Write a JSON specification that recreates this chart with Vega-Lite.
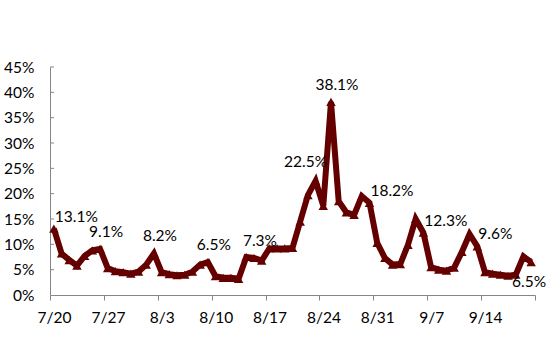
{
  "$schema": "https://vega.github.io/schema/vega-lite/v6.json",
  "autosize": {"type": "none"},
  "padding": {"left": 50, "top": 67, "right": 15, "bottom": 63},
  "width": 485,
  "height": 228,
  "background": "white",
  "config": {"view": {"stroke": null}, "font": "Lato"},
  "data": {"values": [
    {"date": "2020-07-20", "rate": 0.131},
    {"date": "2020-07-21", "rate": 0.082},
    {"date": "2020-07-22", "rate": 0.069},
    {"date": "2020-07-23", "rate": 0.058},
    {"date": "2020-07-24", "rate": 0.077},
    {"date": "2020-07-25", "rate": 0.088},
    {"date": "2020-07-26", "rate": 0.091},
    {"date": "2020-07-27", "rate": 0.053},
    {"date": "2020-07-28", "rate": 0.047},
    {"date": "2020-07-29", "rate": 0.045},
    {"date": "2020-07-30", "rate": 0.042},
    {"date": "2020-07-31", "rate": 0.046},
    {"date": "2020-08-01", "rate": 0.060},
    {"date": "2020-08-02", "rate": 0.082},
    {"date": "2020-08-03", "rate": 0.045},
    {"date": "2020-08-04", "rate": 0.041},
    {"date": "2020-08-05", "rate": 0.039},
    {"date": "2020-08-06", "rate": 0.040},
    {"date": "2020-08-07", "rate": 0.046},
    {"date": "2020-08-08", "rate": 0.060},
    {"date": "2020-08-09", "rate": 0.065},
    {"date": "2020-08-10", "rate": 0.037},
    {"date": "2020-08-11", "rate": 0.034},
    {"date": "2020-08-12", "rate": 0.034},
    {"date": "2020-08-13", "rate": 0.032},
    {"date": "2020-08-14", "rate": 0.075},
    {"date": "2020-08-15", "rate": 0.073},
    {"date": "2020-08-16", "rate": 0.068},
    {"date": "2020-08-17", "rate": 0.092},
    {"date": "2020-08-18", "rate": 0.092},
    {"date": "2020-08-19", "rate": 0.092},
    {"date": "2020-08-20", "rate": 0.093},
    {"date": "2020-08-21", "rate": 0.145},
    {"date": "2020-08-22", "rate": 0.197},
    {"date": "2020-08-23", "rate": 0.225},
    {"date": "2020-08-24", "rate": 0.176},
    {"date": "2020-08-25", "rate": 0.381},
    {"date": "2020-08-26", "rate": 0.185},
    {"date": "2020-08-27", "rate": 0.163},
    {"date": "2020-08-28", "rate": 0.158},
    {"date": "2020-08-29", "rate": 0.195},
    {"date": "2020-08-30", "rate": 0.182},
    {"date": "2020-08-31", "rate": 0.103},
    {"date": "2020-09-01", "rate": 0.073},
    {"date": "2020-09-02", "rate": 0.060},
    {"date": "2020-09-03", "rate": 0.061},
    {"date": "2020-09-04", "rate": 0.099},
    {"date": "2020-09-05", "rate": 0.150},
    {"date": "2020-09-06", "rate": 0.123},
    {"date": "2020-09-07", "rate": 0.055},
    {"date": "2020-09-08", "rate": 0.050},
    {"date": "2020-09-09", "rate": 0.048},
    {"date": "2020-09-10", "rate": 0.054},
    {"date": "2020-09-11", "rate": 0.085},
    {"date": "2020-09-12", "rate": 0.120},
    {"date": "2020-09-13", "rate": 0.096},
    {"date": "2020-09-14", "rate": 0.045},
    {"date": "2020-09-15", "rate": 0.042},
    {"date": "2020-09-16", "rate": 0.040},
    {"date": "2020-09-17", "rate": 0.038},
    {"date": "2020-09-18", "rate": 0.040},
    {"date": "2020-09-19", "rate": 0.076},
    {"date": "2020-09-20", "rate": 0.065}
  ]},
  "encoding": {
    "x": {
      "field": "date", "type": "temporal",
      "scale": {"type": "utc", "domain": [
        {"year": 2020, "month": 7, "date": 19, "hours": 12, "utc": true},
        {"year": 2020, "month": 9, "date": 20, "hours": 12, "utc": true}
      ]},
      "axis": {
        "title": null,
        "grid": false,
        "values": [
          {"year": 2020, "month": 7, "date": 19, "hours": 12, "utc": true},
          {"year": 2020, "month": 7, "date": 26, "hours": 12, "utc": true},
          {"year": 2020, "month": 8, "date": 2, "hours": 12, "utc": true},
          {"year": 2020, "month": 8, "date": 9, "hours": 12, "utc": true},
          {"year": 2020, "month": 8, "date": 16, "hours": 12, "utc": true},
          {"year": 2020, "month": 8, "date": 23, "hours": 12, "utc": true},
          {"year": 2020, "month": 8, "date": 30, "hours": 12, "utc": true},
          {"year": 2020, "month": 9, "date": 6, "hours": 12, "utc": true},
          {"year": 2020, "month": 9, "date": 13, "hours": 12, "utc": true},
          {"year": 2020, "month": 9, "date": 20, "hours": 12, "utc": true}
        ],
        "labelExpr": "+datum.value > 1600500000000 ? '' : utcFormat(+datum.value + 43200000, '%-m/%-d')",
        "labelOffset": 4,
        "labelFont": "Lato",
        "labelFontSize": 15.5,
        "labelColor": "#000000",
        "labelPadding": 10,
        "labelFlush": false,
        "labelOverlap": false,
        "domainColor": "#868686",
        "tickColor": "#868686",
        "tickSize": 5
      }
    },
    "y": {
      "field": "rate", "type": "quantitative",
      "scale": {"domain": [0, 0.45], "nice": false},
      "axis": {
        "title": null,
        "grid": false,
        "values": [0, 0.05, 0.1, 0.15, 0.2, 0.25, 0.3, 0.35, 0.4, 0.45],
        "format": ".0%",
        "labelFont": "Lato",
        "labelFontSize": 15.5,
        "labelColor": "#000000",
        "labelPadding": 16,
        "tickSize": 0,
        "domainColor": "#868686",
        "labelFlush": false
      }
    }
  },
  "layer": [
    {
      "mark": {"type": "rule", "color": "#868686"},
      "data": {"values": [
        {"t": 0.05}, {"t": 0.1}, {"t": 0.15}, {"t": 0.2}, {"t": 0.25}, {"t": 0.3}, {"t": 0.35}, {"t": 0.4}, {"t": 0.45}
      ]},
      "encoding": {
        "x": {"value": 0},
        "x2": {"value": 4},
        "y": {"field": "t", "type": "quantitative"}
      }
    },
    {
      "mark": {"type": "line", "color": "#640000", "strokeWidth": 6, "strokeJoin": "miter"}
    },
    {
      "mark": {"type": "point", "shape": "triangle-up", "filled": true, "color": "#640000", "size": 90, "opacity": 1}
    },
    {
      "transform": [{"filter": "indexof(['2020-07-26','2020-08-02','2020-08-09','2020-08-15','2020-08-25'], utcFormat(datum.date, '%Y-%m-%d')) >= 0"}],
      "mark": {"type": "text", "align": "center", "baseline": "middle", "dx": 6, "dy": -17, "font": "Lato", "fontSize": 15.5, "color": "#000000"},
      "encoding": {"text": {"field": "rate", "type": "quantitative", "format": ".1%"}}
    },
    {
      "transform": [{"filter": "utcFormat(datum.date, '%Y-%m-%d') == '2020-08-23'"}],
      "mark": {"type": "text", "align": "center", "baseline": "middle", "dx": -10, "dy": -19, "font": "Lato", "fontSize": 15.5, "color": "#000000"},
      "encoding": {"text": {"field": "rate", "type": "quantitative", "format": ".1%"}}
    },
    {
      "transform": [{"filter": "indexof(['2020-07-20','2020-08-30','2020-09-06','2020-09-13'], utcFormat(datum.date, '%Y-%m-%d')) >= 0"}],
      "mark": {"type": "text", "align": "left", "baseline": "middle", "dx": 1, "dy": -12, "font": "Lato", "fontSize": 15.5, "color": "#000000"},
      "encoding": {"text": {"field": "rate", "type": "quantitative", "format": ".1%"}}
    },
    {
      "transform": [{"filter": "utcFormat(datum.date, '%Y-%m-%d') == '2020-09-20'"}],
      "mark": {"type": "text", "align": "center", "baseline": "middle", "dx": -2, "dy": 20, "font": "Lato", "fontSize": 15.5, "color": "#000000"},
      "encoding": {"text": {"field": "rate", "type": "quantitative", "format": ".1%"}}
    }
  ]
}
